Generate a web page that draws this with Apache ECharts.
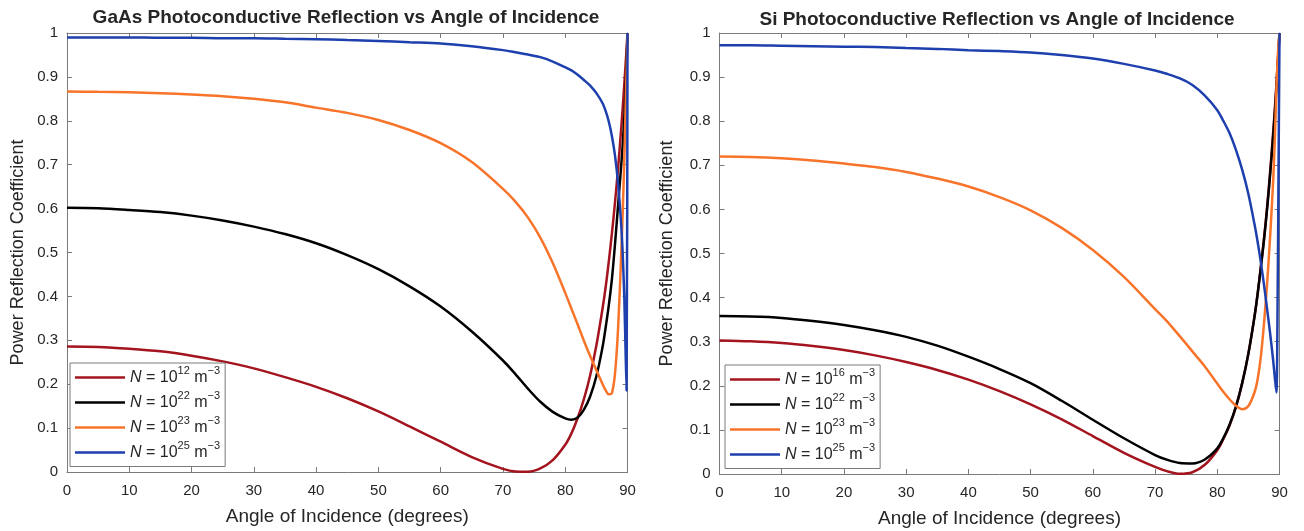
<!DOCTYPE html>
<html>
<head>
<meta charset="utf-8">
<script src="https://cdn.jsdelivr.net/npm/echarts@6/dist/echarts.min.js"></script>
<style>
html,body{margin:0;padding:0;background:#fff;}
#c{width:1304px;height:531px;}
</style>
</head>
<body>
<div id="c"></div>
<script>
// ---- data ----
const angles = [0,5,10,15,20,25,30,35,40,45,50,55,60,65,70,72,74,76,78,80,81,82,83,84,85,86,86.5,87,87.5,88,88.5,89,89.25,89.5,89.7,89.85,90];

const gaasN12 = [.286,.285,.281,.275,.265,.252,.236,.216,.194,.168,.138,.104,.069,.034,.007,.001,.0005,.008,.027,.062,.088,.123,.166,.22,.288,.373,.422,.48,.544,.615,.694,.785,.834,.886,.93,.964,1];
const gaasN22 = [.602,.601,.597,.592,.584,.573,.559,.542,.521,.494,.462,.423,.377,.32,.254,.223,.19,.16,.137,.122,.119,.124,.142,.172,.218,.285,.33,.38,.44,.52,.61,.70,.75,.81,.87,.93,1];
const gaasN23 = [.867,.866,.865,.863,.860,.856,.850,.842,.830,.818,.802,.779,.749,.706,.645,.616,.58,.534,.476,.408,.372,.336,.299,.264,.232,.2,.186,.177,.18,.225,.33,.5,.6,.72,.83,.91,1];
const gaasN25 = [.99,.99,.99,.989,.989,.988,.988,.987,.986,.984,.982,.979,.976,.97,.961,.956,.951,.945,.935,.922,.915,.905,.893,.88,.863,.84,.822,.798,.765,.72,.655,.56,.49,.39,.27,.185,1];

const siN16 = [.303,.301,.297,.29,.281,.269,.254,.236,.214,.188,.158,.124,.086,.048,.016,.006,.0005,.004,.021,.054,.08,.111,.152,.206,.273,.359,.41,.47,.532,.604,.686,.778,.828,.882,.928,.963,1];
const siN22 = [.358,.357,.354,.347,.338,.326,.311,.291,.266,.238,.206,.166,.123,.081,.043,.032,.025,.024,.033,.058,.082,.113,.153,.206,.273,.358,.41,.468,.53,.60,.68,.77,.82,.875,.925,.96,1];
const siN23 = [.72,.719,.716,.711,.704,.696,.685,.67,.652,.628,.598,.558,.508,.447,.374,.345,.312,.278,.244,.205,.186,.169,.155,.147,.154,.186,.216,.266,.34,.43,.54,.67,.76,.87,.94,.975,1];
const siN25 = [.972,.972,.971,.970,.969,.968,.966,.964,.961,.959,.956,.95,.942,.93,.915,.907,.897,.882,.858,.825,.80,.772,.735,.69,.635,.565,.525,.48,.43,.375,.318,.255,.218,.185,.4,.7,1];

const titles = ['GaAs Photoconductive Reflection vs Angle of Incidence', 'Si Photoconductive Reflection vs Angle of Incidence'];
const xName = 'Angle of Incidence (degrees)';
const yName = 'Power Reflection Coefficient';
const leftExp = ['12','22','23','25'];
const rightExp = ['16','22','23','25'];
const colors = ['#a3141e','#000000','#f7742a','#1e3fae'];

// ---- chart ----
const FONT = 'Liberation Sans, Arial, Helvetica, sans-serif';
const TXT = '#262626';
const AX = '#7a7a7a';
const chart = echarts.init(document.getElementById('c'), null, {renderer:'canvas'});

function pairs(ys){ return angles.map((a,i)=>[a, ys[i]]); }

const grids = [
  {left:67, right:1304-627.5, top:33, bottom:531-472, outerBoundsMode:'none', containLabel:false},
  {left:719.5, right:1304-1279.5, top:33, bottom:531-474, outerBoundsMode:'none', containLabel:false}
];

function xAx(gi, pos){
  const main = pos === 'bottom';
  return {
    type:'value', gridIndex:gi, position:pos, min:0, max:90, interval:10,
    name: main ? xName : '', nameLocation:'middle', nameGap: 35,
    nameTextStyle:{fontFamily:FONT, fontSize:19, color:TXT},
    axisLine:{show:true, onZero:false, lineStyle:{color:AX, width:1}},
    axisTick:{show:true, inside:true, length:5, lineStyle:{color:AX}},
    axisLabel:{show:main, fontFamily:FONT, fontSize:15, color:TXT, margin:11},
    splitLine:{show:false}
  };
}
function yAx(gi, pos, gap){
  const main = pos === 'left';
  return {
    type:'value', gridIndex:gi, position:pos, min:0, max:1, interval:0.1,
    name: main ? yName : '', nameLocation:'middle', nameGap: gap,
    nameTextStyle:{fontFamily:FONT, fontSize:18, color:TXT},
    axisLine:{show:true, onZero:false, lineStyle:{color:AX, width:1}},
    axisTick:{show:true, inside:true, length:5, lineStyle:{color:AX}},
    axisLabel:{show:main, fontFamily:FONT, fontSize:15, color:TXT, margin:9},
    splitLine:{show:false}
  };
}

const leftData = [gaasN12, gaasN22, gaasN23, gaasN25];
const rightData = [siN16, siN22, siN23, siN25];
const series = [];
const leftNames = [], rightNames = [];
leftData.forEach((d,i)=>{
  const nm = 'GaAs ' + leftExp[i];
  leftNames.push(nm);
  series.push({type:'line', name:nm, xAxisIndex:0, yAxisIndex:0, data:pairs(d),
    showSymbol:false, smooth:0.3, clip:true,
    lineStyle:{color:colors[i], width:2.5}, itemStyle:{color:colors[i]}, z: 2+i});
});
rightData.forEach((d,i)=>{
  const nm = 'Si ' + rightExp[i];
  rightNames.push(nm);
  series.push({type:'line', name:nm, xAxisIndex:2, yAxisIndex:2, data:pairs(d),
    showSymbol:false, smooth:0.3, clip:true,
    lineStyle:{color:colors[i], width:2.5}, itemStyle:{color:colors[i]}, z: 2+i});
});

const rich = {
  it:{fontFamily:FONT, fontSize:16, fontStyle:'italic', color:TXT, lineHeight:25},
  t:{fontFamily:FONT, fontSize:16, color:TXT, lineHeight:25},
  s:{fontFamily:FONT, fontSize:11, color:TXT, lineHeight:15, verticalAlign:'top'}
};
function legendFmt(name){
  const exp = name.split(' ')[1];
  return '{it|N}{t| = 10}{s|' + exp + '}{t| m}{s|\u22123}';
}
function legend(names, left, top){
  return {
    data:names, orient:'vertical', left:left, top:top,
    icon:'rect', itemWidth:50, itemHeight:2.5, itemGap:4.5,
    padding:[2,5,6,5], borderColor:AX, borderWidth:1, backgroundColor:'#fff',
    selectedMode:false, formatter:legendFmt,
    textStyle:{rich:rich}
  };
}

chart.setOption({
  animation:false,
  backgroundColor:'#fff',
  title:[
    {text:titles[0], left:341, textAlign:'center', top:3, textStyle:{fontFamily:FONT, fontSize:19, fontWeight:'bold', color:TXT}},
    {text:titles[1], left:992, textAlign:'center', top:5, textStyle:{fontFamily:FONT, fontSize:19, fontWeight:'bold', color:TXT}}
  ],
  grid: grids,
  xAxis:[xAx(0,'bottom'), xAx(0,'top'), xAx(1,'bottom'), xAx(1,'top')],
  yAxis:[yAx(0,'left',40), yAx(0,'right',0), yAx(1,'left',43), yAx(1,'right',0)],
  legend:[legend(leftNames, 70, 363), legend(rightNames, 725, 365)],
  series: series
});
</script>
</body>
</html>
